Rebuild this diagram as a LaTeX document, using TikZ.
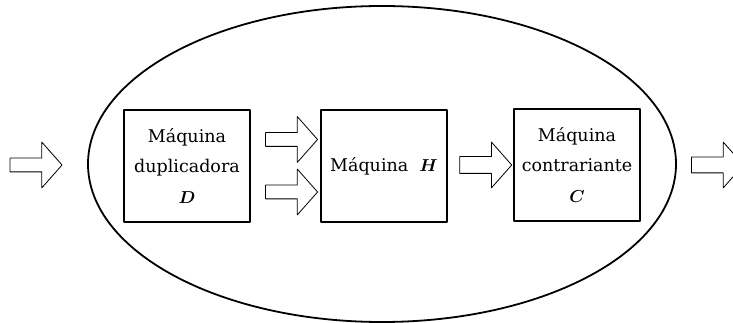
\documentclass[tikz,border=0pt]{standalone}
\usepackage{amsmath}
\usepackage{bm}
\usepackage{fontspec}
\setmainfont{DejaVu Serif}
\usetikzlibrary{shapes.arrows}

\begin{document}
\begin{tikzpicture}[line cap=round,line join=round,x=1pt,y=-1pt,
    maquina/.style={draw,line width=2.8pt,minimum width=126pt,minimum height=112pt,
        align=center,inner sep=0pt,font=\fontsize{17.5}{30.5}\selectfont},
    flecha/.style={draw,line width=0.8pt,single arrow,minimum height=52pt,
        minimum width=45pt,inner sep=6.5pt,single arrow head extend=16pt,
        single arrow tip angle=97,single arrow head indent=0pt}]
    \useasboundingbox (0,0) rectangle (733,323);
    \clip (0,0) rectangle (733,323);
    \draw[line width=1.8pt] (382,164) ellipse [x radius=294, y radius=158];
    \node [maquina] (D) at (187,166) {M\'aquina\\duplicadora\\$\bm{D}$};
    \node [maquina] (H) at (384,166) {M\'aquina \ $\bm{H}$};
    \node [maquina] (C) at (577,165) {M\'aquina\\contrariante\\$\bm{C}$};
    \node [flecha] (entrada) at (33,165) {};
    \node [flecha] (dh1) at (288.5,139.5) {};
    \node [flecha] (dh2) at (288.5,192) {};
    \node [flecha,inner sep=8pt,single arrow head extend=14.5pt] (hc) at (482,165) {};
    \node [flecha,inner sep=7.5pt,single arrow head extend=15pt] (salida) at (714,165) {};
\end{tikzpicture}
\end{document}
